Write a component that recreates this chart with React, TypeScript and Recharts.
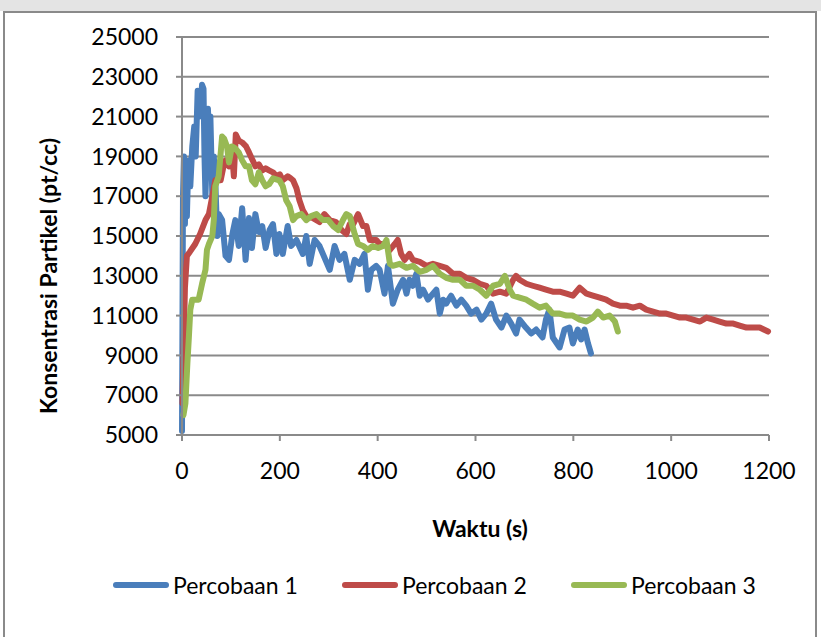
import React from 'react';
import { LineChart, Line, XAxis, YAxis, CartesianGrid } from 'recharts';

const xTicks = [0, 200, 400, 600, 800, 1000, 1200];
const yTicks = [5000, 7000, 9000, 11000, 13000, 15000, 17000, 19000, 21000, 23000, 25000];
const seriesNames = ['Percobaan 1', 'Percobaan 2', 'Percobaan 3'];
const colors = ['#4A7EBB', '#BE4B48', '#98B954'];

// Percobaan 1
const p1Time = [0, 2, 4, 6, 8, 10, 13, 17, 21, 25, 28, 32, 36, 41, 44, 46, 48, 53, 56, 58, 62, 65, 68, 72, 75, 82, 89, 96, 103, 109, 116, 123, 130, 137, 143, 150, 157, 164, 171, 179, 186, 193, 199, 206, 216, 223, 234, 247, 254, 261, 271, 281, 288, 302, 312, 322, 332, 343, 353, 363, 373, 380, 387, 397, 404, 414, 421, 431, 441, 452, 459, 465, 472, 479, 486, 493, 503, 513, 520, 527, 534, 540, 550, 561, 571, 581, 591, 602, 612, 622, 632, 642, 653, 663, 673, 683, 690, 703, 714, 724, 737, 744, 751, 758, 772, 782, 792, 799, 809, 816, 823, 830, 836];
const p1Value = [5200, 17000, 19000, 15600, 18500, 16000, 18800, 17500, 19500, 20500, 19000, 22300, 21000, 22600, 22400, 19000, 17000, 21400, 19500, 21000, 17000, 19000, 17800, 15000, 16100, 15800, 14000, 13800, 15100, 15800, 14500, 16400, 13800, 15900, 14400, 16100, 15200, 15500, 14400, 15300, 15600, 14100, 15100, 14100, 15500, 14500, 14800, 14100, 15000, 13600, 14800, 14500, 14100, 13300, 14500, 13800, 14100, 12800, 13800, 13600, 14100, 12300, 13300, 13500, 13300, 12100, 13500, 11600, 12300, 12800, 12100, 12800, 12500, 13100, 12000, 12300, 11800, 12100, 12300, 11100, 11800, 11600, 12000, 11500, 11800, 11500, 11100, 11300, 10800, 11100, 11600, 10800, 10400, 11000, 10600, 10100, 10800, 10400, 10100, 10300, 9900, 10800, 11300, 9900, 9400, 10300, 10400, 9600, 10300, 9800, 10300, 9600, 9100];

// Percobaan 2
const p2Time = [1, 3, 6, 10, 16, 27, 37, 48, 55, 62, 68, 79, 84, 89, 96, 102, 106, 110, 116, 123, 131, 137, 150, 157, 164, 171, 178, 186, 193, 200, 206, 216, 222, 227, 234, 240, 247, 254, 268, 281, 291, 302, 315, 326, 336, 343, 350, 360, 370, 377, 384, 397, 404, 411, 418, 425, 435, 441, 448, 455, 465, 472, 486, 500, 513, 527, 540, 554, 568, 581, 595, 609, 622, 636, 650, 663, 677, 683, 690, 704, 717, 731, 744, 758, 772, 786, 799, 813, 827, 840, 854, 867, 881, 895, 908, 922, 936, 949, 963, 977, 990, 1004, 1018, 1031, 1045, 1059, 1072, 1086, 1099, 1113, 1127, 1140, 1154, 1168, 1181, 1198];
const p2Value = [6600, 9100, 12400, 14000, 14200, 14600, 15100, 15800, 16100, 17000, 17800, 17800, 18400, 18800, 18500, 19300, 18000, 20100, 19800, 19700, 19500, 19200, 18500, 18600, 18300, 18400, 18300, 18200, 18000, 18100, 17800, 18000, 17900, 17800, 17400, 16800, 16300, 16000, 15900, 15700, 16100, 15800, 15700, 15300, 15100, 15600, 15600, 16100, 15500, 15500, 14800, 14800, 14600, 14600, 14500, 14300, 14600, 14800, 14100, 13800, 14100, 13800, 13700, 13500, 13600, 13500, 13400, 13100, 13100, 12900, 12800, 12600, 12500, 12100, 12200, 12100, 12800, 13000, 12800, 12600, 12500, 12400, 12300, 12200, 12200, 12100, 12000, 12400, 12100, 12000, 11900, 11800, 11600, 11500, 11500, 11400, 11500, 11300, 11200, 11100, 11100, 11000, 10900, 10900, 10800, 10700, 10900, 10800, 10700, 10600, 10600, 10500, 10400, 10400, 10400, 10200];

// Percobaan 3
const p3Time = [3, 7, 11, 14, 17, 21, 27, 34, 41, 48, 51, 55, 62, 65, 68, 75, 82, 86, 92, 96, 102, 109, 116, 123, 130, 137, 143, 150, 157, 164, 171, 178, 186, 199, 206, 213, 220, 227, 234, 244, 254, 264, 275, 288, 299, 309, 319, 329, 336, 343, 353, 360, 370, 380, 390, 401, 411, 418, 425, 431, 445, 459, 472, 486, 500, 513, 527, 540, 554, 568, 581, 595, 609, 622, 636, 650, 660, 670, 677, 690, 704, 717, 731, 744, 758, 772, 786, 799, 813, 827, 840, 850, 861, 874, 885, 891];
const p3Value = [6000, 6600, 8600, 9900, 11300, 11800, 11800, 11800, 12600, 13300, 14300, 14600, 15000, 15800, 17500, 18000, 20000, 19900, 19500, 18700, 19500, 19400, 19200, 18800, 18500, 18500, 17800, 17600, 18200, 17800, 17500, 17600, 17900, 17800, 17500, 16800, 16500, 15800, 16000, 16100, 15800, 16000, 16100, 15800, 15800, 15500, 15300, 15800, 16100, 16000, 15100, 14600, 14500, 14300, 14500, 14400, 14500, 14800, 13600, 13500, 13600, 13400, 13500, 13200, 13300, 13500, 13100, 12900, 12800, 12800, 12500, 12500, 12300, 12000, 12500, 12600, 13000, 12300, 12000, 11900, 11800, 11600, 11400, 11500, 11100, 11100, 11000, 11000, 10800, 10700, 10900, 11200, 10900, 11000, 10700, 10200];

const toPoints = (times: number[], values: number[]) => times.map((t, i) => ({ t, v: values[i] }));
const series = [toPoints(p1Time, p1Value), toPoints(p2Time, p2Value), toPoints(p3Time, p3Value)];

const font = 'Lato, "Open Sans", sans-serif';
const gray = '#8a8a8a';

const XTitle = () => (
    <text x={480} y={537} textAnchor="middle" fontFamily={font} fontSize={23} fontWeight={700} fill="#000">
        Waktu (s)
    </text>
);

const YTitle = () => (
    <text
        x={48}
        y={276}
        transform="rotate(-90 48 276)"
        textAnchor="middle"
        dominantBaseline="central"
        fontFamily={font}
        fontSize={23}
        fontWeight={700}
        fill="#000"
    >
        Konsentrasi Partikel (pt/cc)
    </text>
);

const App: React.FC = () => {
    return (
        <div style={{ position: 'absolute', left: 0, top: 0, width: 821, height: 637, background: '#fff', overflow: 'hidden' }}>
            <div style={{ position: 'absolute', left: 0, top: 0, width: 821, height: 11, background: '#e4e4e4' }} />
            <div style={{ position: 'absolute', left: 3, top: 11, width: 810, height: 640, border: `2px solid ${gray}` }} />
            <div style={{ position: 'absolute', left: 0, top: 0 }}>
                <LineChart width={821} height={637} data={series[0]} margin={{ top: 37, right: 52, bottom: 142, left: 112 }}>
                    <CartesianGrid vertical={false} stroke={gray} strokeWidth={2} />
                    <XAxis
                        type="number"
                        dataKey="t"
                        domain={[0, 1200]}
                        ticks={xTicks}
                        height={60}
                        axisLine={{ stroke: gray, strokeWidth: 2 }}
                        tickLine={{ stroke: gray, strokeWidth: 2 }}
                        tickSize={6}
                        tickMargin={22}
                        tick={{ fontSize: 23, fontFamily: font, fill: '#000' }}
                        interval={0}
                        label={<XTitle />}
                    />
                    <YAxis
                        type="number"
                        domain={[5000, 25000]}
                        ticks={yTicks}
                        width={70}
                        axisLine={{ stroke: gray, strokeWidth: 2 }}
                        tickLine={{ stroke: gray, strokeWidth: 2 }}
                        tickSize={6}
                        tickMargin={18}
                        tick={{ fontSize: 23, fontFamily: font, fill: '#000' }}
                        interval={0}
                        label={<YTitle />}
                    />
                    {series.map((points, i) => (
                        <Line
                            key={seriesNames[i]}
                            data={points}
                            dataKey="v"
                            name={seriesNames[i]}
                            type="linear"
                            stroke={colors[i]}
                            strokeWidth={6}
                            strokeLinejoin="round"
                            strokeLinecap="round"
                            dot={false}
                            isAnimationActive={false}
                        />
                    ))}
                </LineChart>
            </div>
            {/* legend */}
            {seriesNames.map((name, i) => (
                <div
                    key={name}
                    style={{ position: 'absolute', left: 113 + i * 229, top: 570, height: 30, display: 'flex', alignItems: 'center' }}
                >
                    <div style={{ width: 56, height: 6, borderRadius: 3, background: colors[i], marginRight: 4 }} />
                    <span style={{ fontFamily: font, fontSize: 23, color: '#000', whiteSpace: 'nowrap' }}>{name}</span>
                </div>
            ))}
        </div>
    );
};

export default App;
